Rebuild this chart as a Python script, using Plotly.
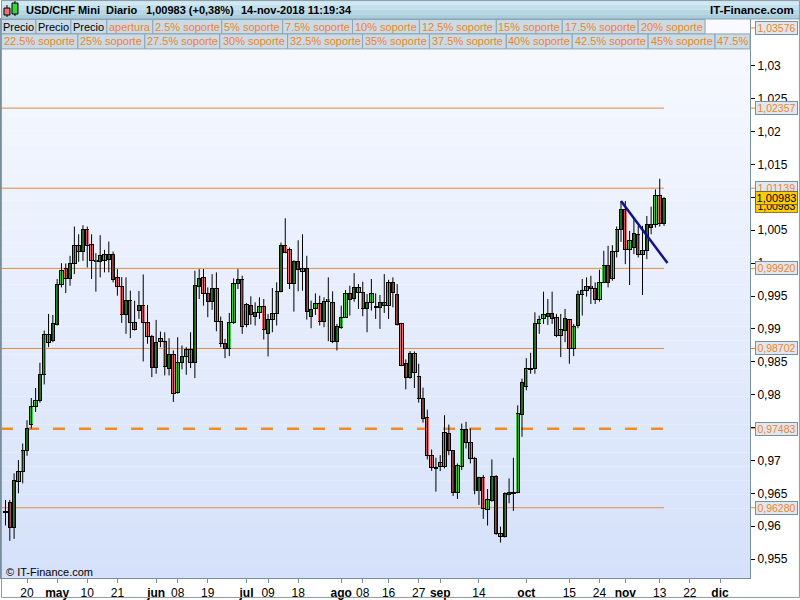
import plotly.graph_objects as go
import pandas as pd

# ---------------- data ----------------
dates = pd.bdate_range("2018-04-13", "2018-11-14")

open_ = [0.96225,0.96363,0.95979,0.96686,0.96838,0.97156,0.97550,0.97813,0.97904,0.98303,
         0.98909,0.98823,0.99066,0.99677,0.99919,0.99768,0.99995,1.00268,1.00177,1.00510,
         1.00283,1.00020,1.00020,1.00131,1.00050,1.00131,0.99783,0.99646,0.99222,0.99434,
         0.99101,0.99283,0.99358,0.99101,0.98889,0.98419,0.98858,0.98813,0.98404,0.98606,
         0.98040,0.98485,0.98586,0.98687,0.98485,0.99646,0.99783,0.99540,0.99419,0.99616,
         0.99116,0.98783,0.98697,0.99091,0.99692,0.99747,0.99060,0.99353,0.99192,0.99252,
         0.99343,0.98924,0.99141,0.99237,0.99571,1.00268,1.00207,0.99692,1.00025,0.99874,
         0.99919,0.99192,0.99303,0.99389,0.99116,0.99419,0.99404,0.98813,0.99025,0.99177,
         0.99540,0.99465,0.99631,0.99555,0.99303,0.99404,0.99333,0.99328,0.99404,0.99363,
         0.99707,0.99530,0.99076,0.98470,0.98267,0.98631,0.98283,0.97949,0.97646,0.97070,
         0.96888,0.96964,0.96904,0.97409,0.97146,0.96510,0.96904,0.97469,0.97267,0.97030,
         0.96535,0.96742,0.96257,0.96383,0.96752,0.95883,0.95843,0.96485,0.96510,0.96510,
         0.97697,0.98131,0.98394,0.98394,0.99086,0.99151,0.99187,0.99237,0.99166,0.98899,
         0.98975,0.99136,0.98697,0.99051,0.99520,0.99581,0.99646,0.99616,0.99444,0.99707,
         0.99970,0.99768,1.00177,1.00515,1.00808,1.00202,1.00237,1.00439,1.00126,1.00187,
         1.00586,1.00586,1.01025,1.00605]
high = [0.96399,0.96399,0.96803,0.97005,0.97257,0.97611,0.97949,0.98101,0.98485,0.98975,
        0.99227,0.99212,0.99758,0.99999,0.99995,1.00111,1.00556,1.00439,1.00576,1.00556,
        1.00439,1.00151,1.00424,1.00202,1.00328,1.00177,0.99909,0.99788,0.99783,0.99581,
        0.99429,0.99576,0.99828,0.99363,0.98909,0.99136,0.98959,0.98949,0.98858,0.98672,
        0.98873,0.98747,0.98722,0.98949,0.99884,0.99909,0.99909,0.99631,0.99833,0.99859,
        0.99187,0.98848,0.99242,0.99768,0.99909,0.99808,0.99394,0.99495,0.99404,0.99480,
        0.99454,0.99227,0.99621,0.99707,1.00313,1.00682,1.00237,1.00045,1.00348,1.00439,
        1.00111,0.99429,0.99540,0.99505,0.99480,0.99783,0.99571,0.99076,0.99353,0.99591,
        0.99656,0.99848,0.99682,0.99717,0.99530,0.99758,0.99540,0.99515,0.99833,0.99747,
        0.99783,0.99682,0.99091,0.98535,0.98662,0.98657,0.98470,0.98106,0.97772,0.97166,
        0.97040,0.97080,0.97687,0.97545,0.97156,0.96954,0.97560,0.97586,0.97485,0.97055,
        0.96752,0.96777,0.96565,0.97015,0.96777,0.95994,0.96515,0.96727,0.97040,0.97838,
        0.98242,0.98555,0.98636,0.99252,0.99202,0.99566,0.99454,0.99566,0.99227,0.99227,
        0.99303,0.99151,0.99076,0.99581,0.99758,0.99783,0.99808,0.99707,0.99899,1.00187,
        1.00263,1.00273,1.00556,1.00944,1.00944,1.00490,1.00667,1.00566,1.00566,1.00717,
        1.00859,1.01121,1.01283,1.01005]
low = [0.96010,0.95777,0.95807,0.96500,0.96651,0.97070,0.97485,0.97737,0.97879,0.98156,
       0.98722,0.98798,0.99051,0.99631,0.99545,0.99656,0.99833,1.00020,1.00035,0.99934,
       0.99758,0.99566,0.99783,0.99859,0.99859,0.99707,0.99505,0.99091,0.98924,0.98858,
       0.98975,0.99151,0.98505,0.98773,0.98267,0.98318,0.98722,0.98293,0.98293,0.97889,
       0.98015,0.98384,0.98303,0.98404,0.98252,0.99454,0.99353,0.99177,0.99288,0.98964,
       0.98722,0.98555,0.98586,0.99076,0.99606,0.98924,0.99025,0.99066,0.99051,0.99151,
       0.98838,0.98581,0.98949,0.99051,0.99555,1.00151,0.99606,0.99262,0.99571,0.99581,
       0.99141,0.99010,0.99212,0.99051,0.99025,0.98813,0.98783,0.98672,0.99000,0.99166,
       0.99202,0.99414,0.99303,0.99192,0.98949,0.99278,0.99151,0.99000,0.99242,0.99151,
       0.99328,0.99051,0.98434,0.98081,0.98242,0.98101,0.97879,0.97575,0.97015,0.96843,
       0.96525,0.96838,0.96878,0.97080,0.96459,0.96414,0.96853,0.97181,0.96954,0.96485,
       0.96323,0.96111,0.96010,0.96373,0.95868,0.95752,0.95828,0.96348,0.96232,0.96500,
       0.97358,0.98066,0.98318,0.98318,0.98924,0.99076,0.99060,0.99076,0.98873,0.98571,
       0.98798,0.98470,0.98586,0.99010,0.99202,0.99490,0.99379,0.99379,0.99414,0.99697,
       0.99631,0.99733,1.00086,1.00323,0.99985,0.99667,1.00136,1.00086,0.99515,1.00060,
       1.00439,1.00540,1.00556,1.00566]
close = [0.96220,0.95979,0.96702,0.96838,0.97156,0.97485,0.97813,0.97904,0.98303,0.98919,
         0.98798,0.99086,0.99677,0.99894,0.99768,0.99995,1.00268,1.00177,1.00510,1.00268,
         1.00040,1.00040,1.00121,1.00040,1.00131,0.99752,0.99646,0.99222,0.99434,0.99101,
         0.98995,0.99358,0.99101,0.98889,0.98419,0.98788,0.98813,0.98434,0.98606,0.98025,
         0.98495,0.98586,0.98687,0.98485,0.99666,0.99768,0.99540,0.99419,0.99616,0.99116,
         0.98773,0.98697,0.99091,0.99692,0.99747,0.99040,0.99369,0.99212,0.99252,0.99343,
         0.98990,0.99141,0.99237,0.99571,1.00268,1.00162,0.99692,1.00025,0.99899,0.99919,
         0.99267,0.99293,0.99389,0.99116,0.99419,0.99449,0.98813,0.99040,0.99177,0.99540,
         0.99444,0.99631,0.99555,0.99303,0.99404,0.99540,0.99343,0.99404,0.99353,0.99707,
         0.99555,0.99066,0.98444,0.98267,0.98621,0.98333,0.97939,0.97636,0.97070,0.96888,
         0.96878,0.96914,0.97419,0.97146,0.96510,0.96929,0.97469,0.97267,0.97030,0.96535,
         0.96742,0.96272,0.96399,0.96752,0.95883,0.95843,0.96500,0.96510,0.96515,0.97712,
         0.98192,0.98394,0.98404,0.99086,0.99141,0.99212,0.99237,0.99161,0.98899,0.98985,
         0.99161,0.98697,0.99040,0.99530,0.99591,0.99646,0.99616,0.99444,0.99707,0.99970,
         0.99707,1.00177,1.00515,1.00808,1.00202,1.00343,1.00449,1.00126,1.00197,1.00586,
         1.00535,1.01025,1.00605,1.00983]

# support / resistance levels
levels = [1.02357, 1.01139, 0.99920, 0.98702, 0.96280]
level_labels = ["1,02357", "1,01139", "0,99920", "0,98702", "0,96280"]
open_level = 0.97483
open_level_label = "0,97483"
top_level = 1.03576
top_level_label = "1,03576"
last_price = 1.00983
last_price_label = "1,00983"

# trend line (index positions, prices)
trend_x = [143, 153.8]
trend_y = [1.00944, 1.00000]

# axis ticks (1,01 and 0,975 are hidden under the price boxes in the original)
y_ticks = [0.955, 0.96, 0.965, 0.97, 0.975, 0.98, 0.985, 0.99, 0.995, 1.0,
           1.005, 1.01, 1.015, 1.02, 1.025, 1.03]
y_ticktext = ["0,955", "0,96", "0,965", "0,97", "", "0,98", "0,985", "0,99", "0,995", "1",
              "1,005", "", "1,015", "1,02", "1,025", "1,03"]
x_tick_dates = ["2018-04-20", "2018-05-01", "2018-05-10", "2018-05-21", "2018-06-01", "2018-06-08",
                "2018-06-19", "2018-07-02", "2018-07-09", "2018-07-18", "2018-08-01", "2018-08-08",
                "2018-08-16", "2018-08-27", "2018-09-03", "2018-09-14", "2018-10-01", "2018-10-15",
                "2018-10-24", "2018-11-01", "2018-11-13", "2018-11-22", "2018-12-03"]
x_tick_text = ["20", "<b>may</b>", "10", "21", "<b>jun</b>", "08", "19", "<b>jul</b>", "09", "18",
               "<b>ago</b>", "08", "16", "27", "<b>sep</b>", "14", "<b>oct</b>", "15", "24",
               "<b>nov</b>", "13", "22", "<b>dic</b>"]

header_row2 = ["Precio", "Precio", "Precio", "apertura", "2.5% soporte", "5% soporte", "7.5% soporte",
               "10% soporte", "12.5% soporte", "15% soporte", "17.5% soporte", "20% soporte"]
header_row3 = ["22.5% soporte", "25% soporte", "27.5% soporte", "30% soporte", "32.5% soporte",
               "35% soporte", "37.5% soporte", "40% soporte", "42.5% soporte", "45% soporte", "47.5%"]

# ---------------- positions ----------------
xs = list(range(len(dates)))
calendar = list(pd.bdate_range("2018-04-13", "2018-12-31"))
cal_idx = {d.strftime("%Y-%m-%d"): i for i, d in enumerate(calendar)}
x_tickvals = [cal_idx[d] for d in x_tick_dates]

FONT = "Liberation Sans, Arial, sans-serif"
ORANGE = "#f5821f"
GREEN = "#3fd23f"
RED = "#ee7070"
PLOT_W, PLOT_TOP, PLOT_BOT = 750.0, 19.0, 580.0
PLOT_H = PLOT_BOT - PLOT_TOP
Y_RANGE = [0.95212, 1.03712]
PIX = (Y_RANGE[1] - Y_RANGE[0]) / PLOT_H   # price per screen pixel


def PX(x):
    return x / PLOT_W


def PY(y):
    return (PLOT_BOT - y) / PLOT_H


fig = go.Figure()

# wicks
wx, wy = [], []
for i, h, l in zip(xs, high, low):
    wx += [i, i, None]
    wy += [l, h, None]
fig.add_trace(go.Scatter(x=wx, y=wy, mode="lines", line=dict(color="black", width=1),
                         showlegend=False, hoverinfo="skip"))

# bodies: black outline bar with a narrower coloured bar on top
body_base = [min(o, c) - 0.5 * PIX for o, c in zip(open_, close)]
body_len = [abs(c - o) + PIX for o, c in zip(open_, close)]
fig.add_trace(go.Bar(x=xs, y=body_len, base=body_base, width=1.0,
                     marker=dict(color="black", line=dict(width=0)),
                     showlegend=False, hoverinfo="skip"))
inner_base = [min(o, c) + 0.5 * PIX for o, c in zip(open_, close)]
inner_len = [max(abs(c - o) - PIX, 0) for o, c in zip(open_, close)]
inner_col = [GREEN if c >= o else RED for o, c in zip(open_, close)]
fig.add_trace(go.Bar(x=xs, y=inner_len, base=inner_base, width=0.6,
                     marker=dict(color=inner_col, line=dict(width=0)),
                     showlegend=False, hoverinfo="skip"))

fig.add_trace(go.Scatter(x=trend_x, y=trend_y, mode="lines",
                         line=dict(color="#12128c", width=2.5), showlegend=False, hoverinfo="skip"))

shapes = []
# gradient background of plot area
N = 40
top_c, bot_c = (248, 250, 255), (213, 225, 250)
for k in range(N):
    t = (k + 0.5) / N
    c = tuple(round(top_c[j] + (bot_c[j] - top_c[j]) * t) for j in range(3))
    shapes.append(dict(type="rect", xref="paper", yref="paper", x0=0, x1=1,
                       y0=1 - (k + 1) / N, y1=1 - k / N, layer="below",
                       line=dict(width=0), fillcolor="rgb(%d,%d,%d)" % c))

x_left = -4.5 / 4.31
for lv in levels:
    shapes.append(dict(type="line", xref="x", yref="y", x0=x_left, x1=153, y0=lv, y1=lv,
                       line=dict(color="#e58a40", width=1), layer="below"))
shapes.append(dict(type="line", xref="x", yref="y", x0=x_left, x1=153, y0=open_level, y1=open_level,
                   line=dict(color="#f7892a", width=2.5, dash="12px,14px"), layer="below"))

# small orange dashes beside right labels
for lv in levels + [open_level, top_level]:
    shapes.append(dict(type="line", xref="paper", yref="y", x0=PX(751), x1=PX(755), y0=lv, y1=lv,
                       line=dict(color=ORANGE, width=1)))

# header row 1 background
row1_cols = ["#cfe8f2", "#c2e0ec", "#b6d6e4", "#aacddd"]
for k, col in enumerate(row1_cols):
    shapes.append(dict(type="rect", xref="paper", yref="paper", x0=0, x1=PX(800),
                       y0=PY(19 * (k + 1) / 4), y1=PY(19 * k / 4), line=dict(width=0), fillcolor=col))
shapes.append(dict(type="line", xref="paper", yref="paper", x0=0, x1=PX(800), y0=PY(19), y1=PY(19),
                   line=dict(color="#8aa2b0", width=1)))

# header boxes
row2_edges = [0, 35, 70, 106, 152, 221, 282, 352, 419, 496, 562, 638, 705]
row3_edges = [0, 77, 144, 219, 287, 362, 429, 506, 572, 648, 715, 750]
annotations = []
for edges, labels, (ya, yb) in [(row2_edges, header_row2, (19.5, 34)), (row3_edges, header_row3, (34, 49))]:
    for k, lab in enumerate(labels):
        xa, xb = edges[k], edges[k + 1]
        shapes.append(dict(type="rect", xref="paper", yref="paper", x0=PX(xa), x1=PX(xb),
                           y0=PY(yb), y1=PY(ya), line=dict(color="#8ea4b2", width=1), fillcolor="#c9dbe6"))
        annotations.append(dict(xref="paper", yref="paper", x=PX((xa + xb) / 2), y=PY((ya + yb) / 2),
                                text=lab, showarrow=False, xanchor="center", yanchor="middle",
                                font=dict(family=FONT, size=11,
                                          color="black" if lab == "Precio" else ORANGE)))

# icon in title bar
shapes.append(dict(type="line", xref="paper", yref="paper", x0=PX(6), x1=PX(6), y0=PY(17), y1=PY(5),
                   line=dict(color="black", width=1)))
shapes.append(dict(type="rect", xref="paper", yref="paper", x0=PX(3), x1=PX(9), y0=PY(15), y1=PY(8),
                   line=dict(color="black", width=1), fillcolor=RED))
shapes.append(dict(type="line", xref="paper", yref="paper", x0=PX(14), x1=PX(14), y0=PY(16), y1=PY(1),
                   line=dict(color="black", width=1)))
shapes.append(dict(type="rect", xref="paper", yref="paper", x0=PX(11), x1=PX(17), y0=PY(14), y1=PY(3),
                   line=dict(color="black", width=1), fillcolor=GREEN))

# outer frame
shapes.append(dict(type="rect", xref="paper", yref="paper", x0=PX(0.5), x1=PX(799.5), y0=PY(599.5), y1=PY(0.5),
                   line=dict(color="#8a9aa6", width=1)))

# title texts
for txt, x in [("USD/CHF Mini", 23), ("Diario", 103), ("1,00983 (+0,38%)", 143), ("14-nov-2018 11:19:34", 238)]:
    annotations.append(dict(xref="paper", yref="paper", x=PX(x), y=PY(9.5), text="<b>%s</b>" % txt,
                            showarrow=False, xanchor="left", yanchor="middle",
                            font=dict(family=FONT, size=11, color="black")))
annotations.append(dict(xref="paper", yref="paper", x=PX(796), y=PY(9.5), text="<b>IT-Finance.com</b>",
                        showarrow=False, xanchor="right", yanchor="middle",
                        font=dict(family=FONT, size=11.5, color="black")))

# right-side price labels
for lv, lab in list(zip(levels, level_labels)) + [(open_level, open_level_label), (top_level, top_level_label)]:
    annotations.append(dict(xref="paper", yref="y", x=PX(755), y=lv, text=lab, showarrow=False,
                            xanchor="left", yanchor="middle", width=41, height=12, align="center",
                            bgcolor="#dfe7f3", bordercolor="#7890a0", borderwidth=1, borderpad=0,
                            font=dict(family=FONT, size=10.5, color=ORANGE)))
annotations.append(dict(xref="paper", yref="y", x=PX(755), y=1.00862, text=last_price_label, showarrow=False,
                        xanchor="left", yanchor="middle", width=41, height=12, align="center",
                        bgcolor="#ffcc00", bordercolor="#8a7a30", borderwidth=1, borderpad=0,
                        font=dict(family=FONT, size=10.5, color="black")))
annotations.append(dict(xref="paper", yref="y", x=PX(755), y=last_price, text=last_price_label, showarrow=False,
                        xanchor="left", yanchor="middle", width=41, height=12, align="center",
                        bgcolor="#ffcc00", bordercolor="#6a6a5a", borderwidth=1, borderpad=0,
                        font=dict(family=FONT, size=11, color="black")))

annotations.append(dict(xref="paper", yref="paper", x=PX(3), y=PY(574), text="© IT-Finance.com",
                        showarrow=False, xanchor="left", yanchor="middle",
                        font=dict(family=FONT, size=11, color="black")))

fig.update_layout(
    width=800, height=600,
    margin=dict(l=0, r=50, t=19, b=20, pad=0),
    paper_bgcolor="white", plot_bgcolor="white",
    showlegend=False, bargap=0, barmode="overlay",
    shapes=shapes, annotations=annotations,
    xaxis=dict(range=[x_left, 745.5 / 4.31], tickvals=x_tickvals, ticktext=x_tick_text,
               ticks="outside", ticklen=4, tickcolor="#7a8f9c", showgrid=False, zeroline=False,
               showline=True, linecolor="#7a8f9c", linewidth=1, mirror=True,
               tickfont=dict(family=FONT, size=12, color="black"), fixedrange=True),
    yaxis=dict(range=Y_RANGE, side="right", tickvals=y_ticks, ticktext=y_ticktext,
               ticks="outside", ticklen=4, tickcolor="black", showgrid=False, zeroline=False,
               showline=True, linecolor="#7a8f9c", linewidth=1, mirror=True,
               tickfont=dict(family=FONT, size=12, color="black"), fixedrange=True),
)

fig.write_html("out.html", config={"displayModeBar": False},
               post_script="document.body.style.margin='0';document.body.style.padding='0';"
                           "document.body.style.overflow='hidden';")
